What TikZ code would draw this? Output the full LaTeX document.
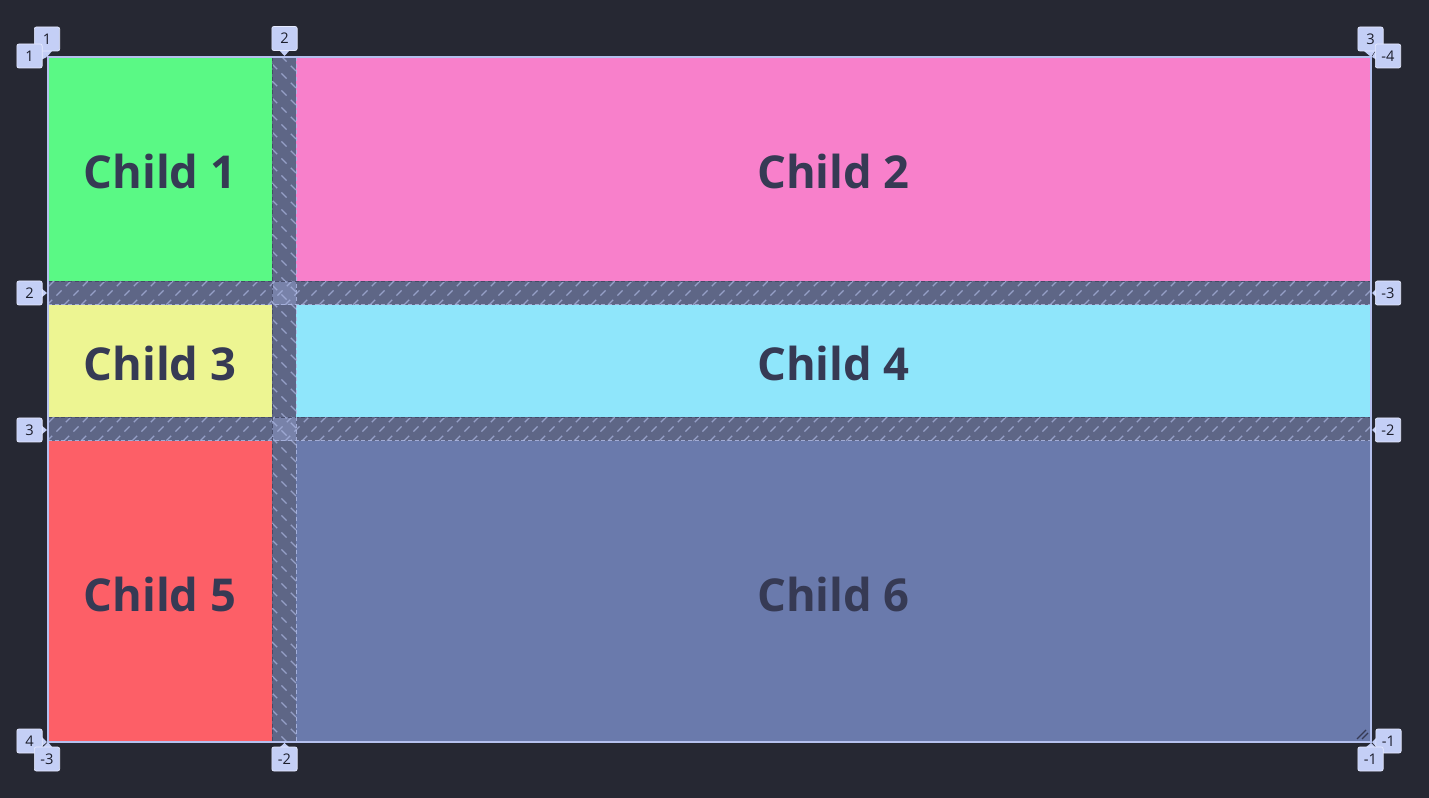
\documentclass[tikz,border=0pt]{standalone}
\usepackage{fontspec}
\setmainfont{Open Sans}
\newfontfamily\childfont{Open Sans}
\definecolor{bgc}{HTML}{262833}
\definecolor{cgreen}{HTML}{5AF985}
\definecolor{cpink}{HTML}{F880CB}
\definecolor{cyellow}{HTML}{EDF592}
\definecolor{ccyan}{HTML}{8FE6FB}
\definecolor{cred}{HTML}{FD5F67}
\definecolor{cblue}{HTML}{6A7AAC}
\definecolor{gapc}{HTML}{5E6686}
\definecolor{crossc}{HTML}{7882A9}
\definecolor{hatchc}{HTML}{AEB9E4}
\definecolor{darkedge}{HTML}{3E4360}
\definecolor{txtc}{HTML}{363A54}
\definecolor{lblfill}{HTML}{C4CFF6}
\definecolor{lbldraw}{HTML}{E6EBFF}
\definecolor{lbltxt}{HTML}{1C1E2C}
\definecolor{borderc}{HTML}{B4C0EE}
\begin{document}
\begin{tikzpicture}[x=0.75pt,y=-0.75pt,
  childtxt/.style={text=txtc,font=\childfont\bfseries\fontsize{34}{40}\selectfont,inner sep=0pt},
  hatch/.style={draw=hatchc,opacity=0.7,line width=1pt,dash pattern=on 5.5pt off 4.5pt},
  gapedge/.style={draw=hatchc,opacity=0.85,line width=0.75pt,dash pattern=on 3pt off 2pt},
  darkgapedge/.style={draw=darkedge,opacity=0.8,line width=0.75pt,dash pattern=on 3pt off 2pt},
  border/.style={draw=borderc,line width=0.9pt},
  lbl/.style={fill=lblfill,draw=lbldraw,line width=0.5pt,rounded corners=1.5pt,
    minimum width=19pt,minimum height=18pt,inner sep=0pt,text=lbltxt,
    font=\fontsize{11}{13}\selectfont},
  ptr/.style={fill=lblfill},
  grip/.style={draw=txtc,line width=1pt}]
\fill[bgc] (0,0) rectangle (1429,798);
\useasboundingbox (0,0) rectangle (1429,798);
% cells
\fill[cgreen] (48,57) rectangle (272,281);
\fill[cpink] (296,57) rectangle (1371,281);
\fill[cyellow] (48,305) rectangle (272,417);
\fill[ccyan] (296,305) rectangle (1371,417);
\fill[cred] (48,441) rectangle (272,742);
\fill[cblue] (296,441) rectangle (1371,742);
% gaps
\fill[gapc] (272,57) rectangle (296,742);
\fill[gapc] (48,281) rectangle (1371,305);
\fill[gapc] (48,417) rectangle (1371,441);
\fill[crossc] (272,281) rectangle (296,305);
\fill[crossc] (272,417) rectangle (296,441);
% hatching
\begin{scope}
  \clip (272,57) rectangle (296,742);
  \foreach \y in {30,47,...,750} \draw[hatch] (272,\y) -- (296,\y+24);
\end{scope}
\begin{scope}
  \clip (48,281) rectangle (1371,305);
  \foreach \x in {30,47,...,1380} \draw[hatch] (\x,305) -- (\x+24,281);
\end{scope}
\begin{scope}
  \clip (48,417) rectangle (1371,441);
  \foreach \x in {30,47,...,1380} \draw[hatch] (\x,441) -- (\x+24,417);
\end{scope}
% gap edges
\draw[darkgapedge] (48,281.5) -- (1371,281.5);
\draw[gapedge] (48,305) -- (1371,305);
\draw[darkgapedge] (48,417.5) -- (1371,417.5);
\draw[gapedge] (48,441) -- (1371,441);
\draw[darkgapedge] (272.5,57) -- (272.5,742);
\draw[gapedge] (296,57) -- (296,742);
% outer border
\draw[border] (48,57) rectangle (1371,742);
% resize grip
\draw[grip] (1357,739) -- (1366,730);
\draw[grip] (1362,739) -- (1368,733);
% texts
\node[childtxt] (t1) at (160,171.5) {Child 1};
\node[childtxt] (t2) at (833.5,171.5) {Child 2};
\node[childtxt] (t3) at (160,363.5) {Child 3};
\node[childtxt] (t4) at (833.5,363.5) {Child 4};
\node[childtxt] (t5) at (160,594) {Child 5};
\node[childtxt] (t6) at (833.5,594) {Child 6};
% labels: pointers
\fill[ptr] (41,51) -- (52,51) -- (47,57) -- cycle;
\fill[ptr] (279,50) -- (290,50) -- (284.5,56) -- cycle;
\fill[ptr] (1364,51) -- (1375,51) -- (1371,57) -- cycle;
\fill[ptr] (41,49) -- (41,60) -- (47,57) -- cycle;
\fill[ptr] (41,288) -- (41,298) -- (47,293) -- cycle;
\fill[ptr] (41,425) -- (41,435) -- (47,430) -- cycle;
\fill[ptr] (41,736) -- (41,747) -- (47,742) -- cycle;
\fill[ptr] (1377,49) -- (1377,60) -- (1372,57) -- cycle;
\fill[ptr] (1377,288) -- (1377,298) -- (1372,293) -- cycle;
\fill[ptr] (1377,425) -- (1377,435) -- (1372,430) -- cycle;
\fill[ptr] (1377,737) -- (1377,748) -- (1372,742) -- cycle;
\fill[ptr] (42,748) -- (53,748) -- (48,742) -- cycle;
\fill[ptr] (279,748) -- (290,748) -- (284.5,743) -- cycle;
\fill[ptr] (1365,748) -- (1376,748) -- (1371,743) -- cycle;
% labels: boxes
\node[lbl] (top1) at (47,39) {1};
\node[lbl] (top2) at (284.5,38.5) {2};
\node[lbl] (top3) at (1370.5,39) {3};
\node[lbl] (left1) at (29.5,56) {1};
\node[lbl] (left2) at (29.5,293) {2};
\node[lbl] (left3) at (29.5,430) {3};
\node[lbl] (left4) at (29.5,741) {4};
\node[lbl] (right4) at (1388,56) {-4};
\node[lbl] (right3) at (1388,293) {-3};
\node[lbl] (right2) at (1388,430) {-2};
\node[lbl] (right1) at (1388.5,741) {-1};
\node[lbl] (bot3) at (47,759) {-3};
\node[lbl] (bot2) at (284.5,759) {-2};
\node[lbl] (bot1) at (1370.5,759) {-1};
\end{tikzpicture}
\end{document}
